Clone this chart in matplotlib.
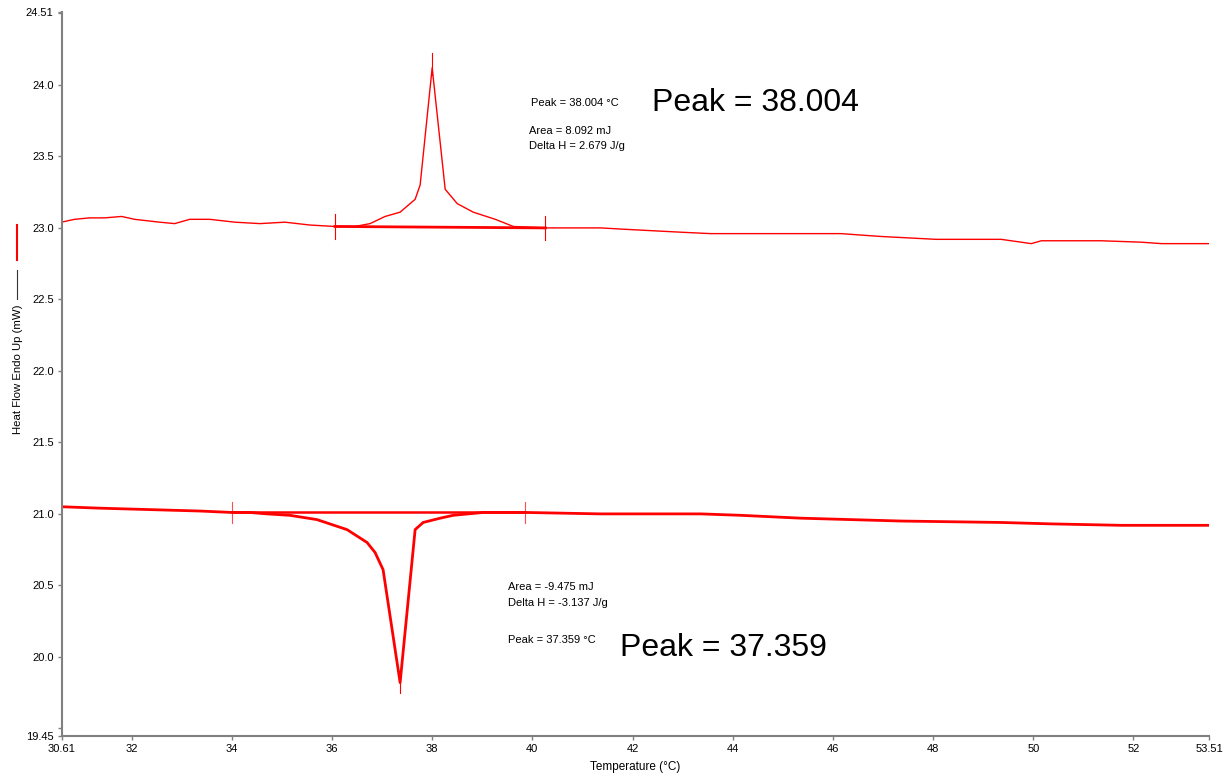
import matplotlib
matplotlib.use("Agg")
import matplotlib.pyplot as plt

# Curva de calentamiento (pico endotérmico)
temp_calor = [30.60, 30.86, 31.16, 31.46, 31.80, 32.06, 32.56, 32.86, 33.16, 33.56,
              34.06, 34.56, 35.06, 35.56, 36.06, 36.46, 36.76, 37.06, 37.36, 37.66,
              37.76, 38.00, 38.26, 38.50, 38.82, 39.26, 39.62, 40.26, 41.36, 41.86,
              42.96, 43.56, 46.16, 46.96, 48.06, 49.36, 49.76, 49.96, 50.16, 51.36,
              52.16, 52.56, 53.51]
flujo_calor = [23.04, 23.06, 23.07, 23.07, 23.08, 23.06, 23.04, 23.03, 23.06, 23.06,
               23.04, 23.03, 23.04, 23.02, 23.01, 23.01, 23.03, 23.08, 23.11, 23.20,
               23.30, 24.12, 23.27, 23.17, 23.11, 23.06, 23.01, 23.00, 23.00, 22.99,
               22.97, 22.96, 22.96, 22.94, 22.92, 22.92, 22.90, 22.89, 22.91, 22.91,
               22.90, 22.89, 22.89]

# Curva de enfriamiento (pico exotérmico)
temp_frio = [30.60, 31.36, 32.36, 33.36, 34.00, 34.36, 34.70, 35.16, 35.70, 36.30,
             36.70, 36.86, 37.02, 37.36, 37.66, 37.82, 38.16, 38.42, 39.02, 39.86,
             41.36, 43.36, 44.16, 45.36, 46.36, 47.36, 49.36, 50.36, 51.76, 53.51]
flujo_frio = [21.05, 21.04, 21.03, 21.02, 21.01, 21.01, 21.00, 20.99, 20.96, 20.89,
              20.80, 20.73, 20.61, 19.82, 20.89, 20.94, 20.97, 20.99, 21.01, 21.01,
              21.00, 21.00, 20.99, 20.97, 20.96, 20.95, 20.94, 20.93, 20.92, 20.92]

# Líneas base de integración (inicio, fin)
base_calor_t = [36.06, 40.26]
base_calor_y = [23.01, 23.00]
base_frio_t = [34.00, 39.86]
base_frio_y = [21.01, 21.01]

# Picos
pico_calor = (38.004, 24.12)
pico_frio = (37.359, 19.82)

xticks = [30.61, 32, 34, 36, 38, 40, 42, 44, 46, 48, 50, 52, 53.51]
xlabels = ["30.61", "32", "34", "36", "38", "40", "42", "44", "46", "48", "50", "52", "53.51"]
yticks = [19.45, 19.5, 20.0, 20.5, 21.0, 21.5, 22.0, 22.5, 23.0, 23.5, 24.0, 24.5, 24.51]
ylabels = ["19.45", "", "20.0", "20.5", "21.0", "21.5", "22.0", "22.5", "23.0", "23.5", "24.0", "", "24.51"]

plt.rcParams["font.family"] = ["Liberation Sans", "DejaVu Sans"]

fig = plt.figure(figsize=(12.3, 7.78), dpi=100)
ax = fig.add_axes([0.0504, 0.0546, 0.9326, 0.93])

rojo = "#ff0000"
ax.plot(temp_calor, flujo_calor, color=rojo, lw=1.0)
ax.plot(temp_frio, flujo_frio, color=rojo, lw=2.0)

ax.plot(base_calor_t, base_calor_y, color=rojo, lw=2.0)
ax.plot(base_frio_t, base_frio_y, color=rojo, lw=1.8)

# Marcas verticales en los extremos de las líneas base
for t, y in zip(base_calor_t, base_calor_y):
    ax.plot([t, t], [y - 0.085, y + 0.085], color=rojo, lw=0.8)
for t, y in zip(base_frio_t, base_frio_y):
    ax.plot([t, t], [y - 0.075, y + 0.075], color=rojo, lw=0.8, alpha=0.7)

# Marcas de los picos
ax.plot([pico_calor[0], pico_calor[0]], [pico_calor[1] - 0.05, pico_calor[1] + 0.1], color=rojo, lw=0.8)
ax.plot([pico_frio[0], pico_frio[0]], [pico_frio[1] - 0.07, pico_frio[1] + 0.05], color=rojo, lw=0.8)

# Textos de resultados
tam = 8
ax.text(39.98, 23.87, "Peak = 38.004 °C", fontsize=tam, va="center")
ax.text(39.94, 23.68, "Area = 8.092 mJ", fontsize=tam, va="center")
ax.text(39.94, 23.57, "Delta H = 2.679 J/g", fontsize=tam, va="center")
ax.text(42.38, 23.87, "Peak = 38.004", fontsize=23, va="center")

ax.text(39.52, 20.49, "Area = -9.475 mJ", fontsize=tam, va="center")
ax.text(39.52, 20.38, "Delta H = -3.137 J/g", fontsize=tam, va="center")
ax.text(39.52, 20.12, "Peak = 37.359 °C", fontsize=tam, va="center")
ax.text(41.74, 20.06, "Peak = 37.359", fontsize=23, va="center")

ax.set_xlim(30.61, 53.51)
ax.set_ylim(19.45, 24.51)
ax.set_xticks(xticks)
ax.set_xticklabels(xlabels)
ax.set_yticks(yticks)
ax.set_yticklabels(ylabels)
ax.tick_params(labelsize=8, length=3, width=1, color="#808080", pad=3)
ax.set_xlabel("Temperature (°C)", fontsize=8.5, labelpad=5)

for lado in ["top", "right"]:
    ax.spines[lado].set_visible(False)
for lado in ["left", "bottom"]:
    ax.spines[lado].set_color("#808080")
    ax.spines[lado].set_linewidth(1.5)

# Etiqueta del eje Y con su simbología
fig.text(0.0146, 1 - 369 / 778, "Heat Flow Endo Up (mW)", rotation=90, fontsize=8.2,
         ha="center", va="center")
fig.add_artist(plt.Line2D([17 / 1230, 17 / 1230], [1 - 225 / 778, 1 - 260 / 778], color=rojo, lw=1.5))
fig.add_artist(plt.Line2D([17 / 1230, 17 / 1230], [1 - 270 / 778, 1 - 299 / 778], color="#333333", lw=0.8))

fig.savefig("out.png", dpi=100)
